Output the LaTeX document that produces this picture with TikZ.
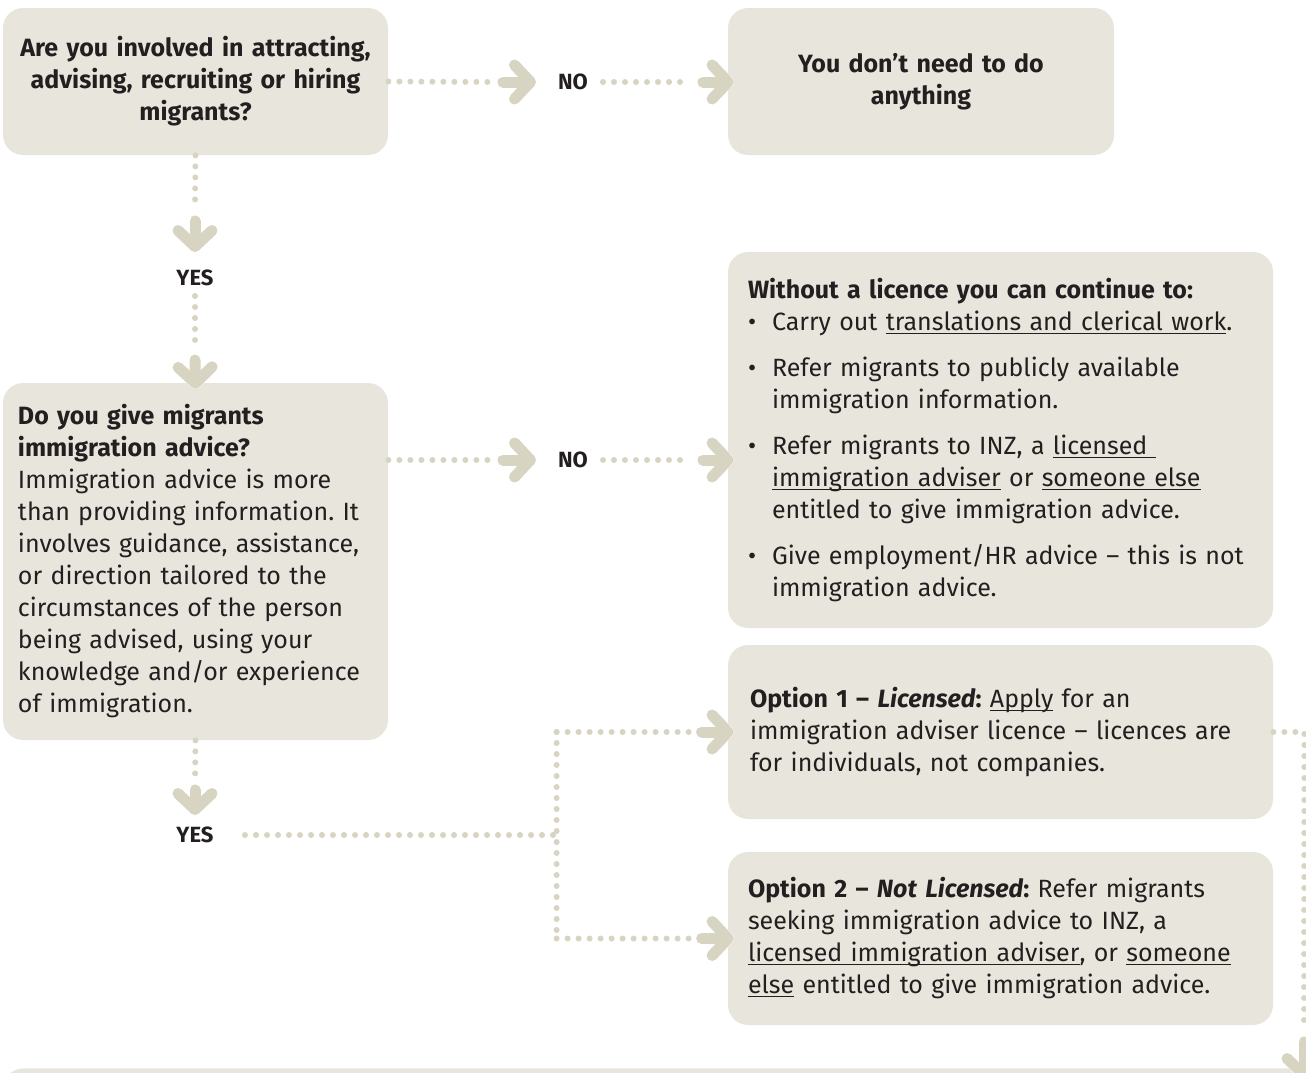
\documentclass[tikz,border=0pt]{standalone}
\usepackage{fontspec}
\setmainfont{Fira Sans}
\usetikzlibrary{arrows.meta,positioning}
\definecolor{boxfill}{HTML}{E8E6DC}
\definecolor{dotcol}{HTML}{D8D4C2}
\definecolor{inktext}{HTML}{231F20}
\frenchspacing
\newcommand\bulitem{\makebox[12pt][l]{\textbullet}}
\newcommand\bulcont{\hspace*{12pt}}
\newcommand\lnk[1]{\underline{\smash{#1}}}
\tikzset
{
    box/.style     = {rectangle, rounded corners=10pt, fill=boxfill, text=inktext, inner ysep=0pt, font=\fontsize{12.5}{16}\selectfont},
    answer/.style  = {text=inktext, inner sep=2pt, font=\bfseries\fontsize{11}{13}\selectfont},
    dotline/.style = {dotcol, line width=3pt, line cap=round, dash pattern=on 0pt off 5.5pt},
    chevron/.style = {dotcol, line width=5.5pt, line cap=round, preaction={draw=white, line width=7pt, -{Straight Barb[round,length=8pt,width=17pt]}}, -{Straight Barb[round,length=8pt,width=17pt]}}
}

\begin{document}
\begin{tikzpicture}[x=0.5pt, y=-0.5pt]

   \useasboundingbox (0,0) rectangle (1306,1072);
   \clip (0,0) rectangle (1306,1072);

   % boxes
   \node (inv)  [box, minimum width=192.5pt, minimum height=73.5pt, inner xsep=2pt, text width=188.5pt, align=center]
                 at (195.5, 81.5) {\bfseries Are you involved in attracting, \\ advising, recruiting or hiring \\ migrants?};
   \node (none) [box, minimum width=193pt, minimum height=73.5pt, inner xsep=2pt, text width=189pt, align=center]
                 at (921, 81.5) {\bfseries You don’t need to do \\ anything};
   \node (ask)  [box, minimum width=192.5pt, minimum height=178.5pt, inner xsep=7.5pt, text width=177.5pt, align=left]
                 at (195.5, 561.5) {\textbf{Do you give migrants} \\ \textbf{immigration advice?} \\ Immigration advice is more \\ than providing information. It \\ involves guidance, assistance, \\ or direction tailored to the \\ circumstances of the person \\ being advised, using your \\ knowledge and/or experience \\ of immigration.};
   \node (can)  [box, minimum width=272.5pt, minimum height=188pt, inner xsep=10pt, text width=252.5pt, align=left]
                 at (1000.5, 440) {\textbf{Without a licence you can continue to:} \\
                   \bulitem Carry out \lnk{translations and clerical work}. \\[7pt]
                   \bulitem Refer migrants to publicly available \\ \bulcont immigration information. \\[7pt]
                   \bulitem Refer migrants to INZ, a \lnk{licensed\ } \\ \bulcont \lnk{immigration adviser} or \lnk{someone else} \\ \bulcont entitled to give immigration advice. \\[7pt]
                   \bulitem Give employment/HR advice -- this is not \\ \bulcont immigration advice.};
   \node (opt1) [box, minimum width=272.5pt, minimum height=87pt, inner xsep=11pt, text width=250.5pt, align=left]
                 at (1000.5, 732) {\textbf{Option 1 -- \textit{Licensed}:} \lnk{Apply} for an \\ immigration adviser licence -- licences are \\ for individuals, not companies.};
   \node (opt2) [box, minimum width=272.5pt, minimum height=86.5pt, inner xsep=10pt, text width=252.5pt, align=left]
                 at (1000.5, 938.5) {\textbf{Option 2 -- \textit{Not Licensed}:} Refer migrants \\ seeking immigration advice to INZ, a \\ \lnk{licensed immigration adviser}, or \lnk{someone} \\ \lnk{else} entitled to give immigration advice.};
   \node (next) [box, minimum width=700pt, minimum height=60pt, anchor=north west] at (3, 1068) {};

   % answers
   \node (no1)  [answer] at (573, 82)  {NO};
   \node (no2)  [answer] at (573, 460) {NO};
   \node (yes1) [answer] at (195, 278) {YES};
   \node (yes2) [answer] at (195, 835) {YES};

   % corner points
   \coordinate (j1) at ([shift={(-171,0)}]opt1.west);
   \coordinate (j2) at ([shift={(-171,0)}]opt2.west);
   \coordinate (j3) at (j1 |- yes2);
   \coordinate (r1) at ([shift={(31,0)}]opt1.east);
   \coordinate (r2) at (1304, 1030);

   % connectors
   \draw[dotline] (inv.east) -- (490, 82);
   \draw[chevron] (503, 82) -- (536, 82);
   \draw[dotline] (603, 82) -- (690, 82);
   \draw[chevron] (703, 82) -- ([xshift=3pt]no1 -| none.west);

   \draw[dotline] (no2 -| ask.east) -- (490, 460);
   \draw[chevron] (503, 460) -- (536, 460);
   \draw[dotline] (603, 460) -- (690, 460);
   \draw[chevron] (703, 460) -- ([xshift=3pt]no2 -| can.west);

   \draw[dotline] (inv.south) -- (195, 207);
   \draw[chevron] (195, 221) -- (195, 252);
   \draw[dotline] (195, 296) -- (195, 348);
   \draw[chevron] (195, 360) -- ([yshift=-3pt]ask.north);

   \draw[dotline] (ask.south) -- (195, 782);
   \draw[chevron] (195, 790) -- (195, 815);
   \draw[dotline] (245, 835) -- (j3);
   \draw[dotline] (j1) -- (j2);
   \draw[dotline] (j1) -- ([shift={(-38,0)}]opt1.west);
   \draw[chevron] ([shift={(-26,0)}]opt1.west) -- ([xshift=3pt]opt1.west);
   \draw[dotline] (j2) -- ([shift={(-38,0)}]opt2.west);
   \draw[chevron] ([shift={(-26,0)}]opt2.west) -- ([xshift=3pt]opt2.west);

   \draw[dotline] (opt1.east) -- (r1) -- (r2);
   \draw[chevron] (1304, 1042) -- (1304, 1080);

\end{tikzpicture}
\end{document}
